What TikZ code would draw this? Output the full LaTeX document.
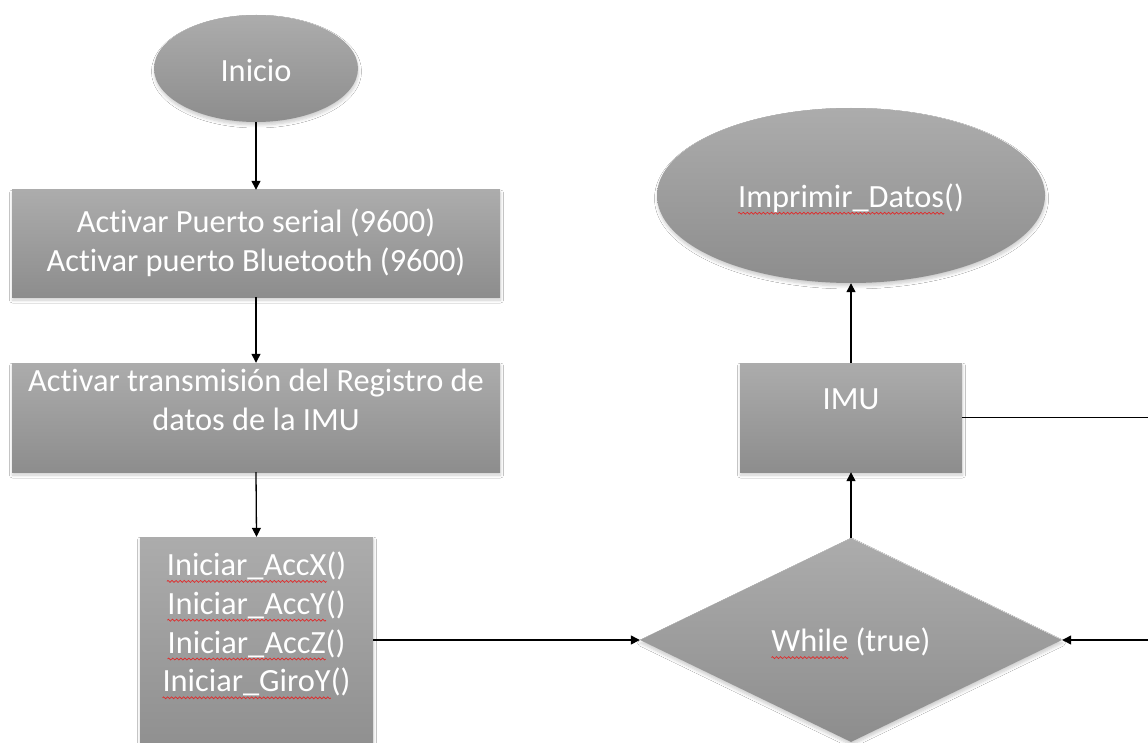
\documentclass[tikz,border=0pt]{standalone}
\usepackage{fontspec}
\setmainfont{Carlito}[Ligatures=NoCommon]
\usetikzlibrary{shapes.geometric,arrows.meta,shadows.blur}

\definecolor{fillTop}{RGB}{172,172,172}
\definecolor{fillBot}{RGB}{141,141,141}
\definecolor{waveRed}{RGB}{225,40,40}

% red wavy underline, as left by a spell checker
\newsavebox\wavebox
\newsavebox\spellbox
\newcommand\spellwave[1]{\leavevmode\sbox\spellbox{#1}%
  \rlap{\raisebox{-6pt}[0pt][0pt]{\hbox to \wd\spellbox{\xleaders\copy\wavebox\hfill}}}%
  \usebox\spellbox}

\begin{document}
\sbox\wavebox{\begin{pgfpicture}%
  \pgfpathrectangle{\pgfpoint{0pt}{-1pt}}{\pgfpoint{4pt}{2pt}}%
  \pgfusepath{use as bounding box}%
  \pgfpathmoveto{\pgfpoint{0pt}{0pt}}%
  \pgfpathcurveto{\pgfpoint{0.7pt}{1.3pt}}{\pgfpoint{1.3pt}{1.3pt}}{\pgfpoint{2pt}{0pt}}%
  \pgfpathcurveto{\pgfpoint{2.7pt}{-1.3pt}}{\pgfpoint{3.3pt}{-1.3pt}}{\pgfpoint{4pt}{0pt}}%
  \pgfsetlinewidth{0.7pt}\pgfsetstrokecolor{waveRed}%
  \pgfusepath{stroke}%
  \pgfsetbaseline{0pt}%
\end{pgfpicture}}%
\begin{tikzpicture}[x=1pt,y=-1pt,
  flowshape/.style={shade, top color=fillTop, bottom color=fillBot, draw=none,
    inner sep=0pt, text=white,
    blur shadow={shadow blur steps=6, shadow blur radius=3pt, shadow xshift=0.5pt,
      shadow yshift=-3pt, shadow opacity=20}},
  proc/.style={flowshape, rectangle},
  term/.style={flowshape, ellipse},
  cond/.style={flowshape, diamond},
  label/.style={text=white, inner sep=0pt, align=center,
    font=\fontsize{32.4}{38.8}\selectfont},
  arr/.style={draw=black, line width=1.3pt, -{Triangle[length=9pt,width=9pt]}}
]
\useasboundingbox (0,0) rectangle (1148,743);
\clip (0,0) rectangle (1148,743);
\fill[white] (0,0) rectangle (1148,743);

% left column
\node[term, minimum width=204pt, minimum height=107pt] (inicio) at (256,68.5) {};
\node[label] (inicioTxt) at (256,70) {Inicio};

\node[proc, minimum width=488pt, minimum height=107pt] (serial) at (256,243.5) {};
\node[label] (serialTxt) at (256,243) {Activar Puerto serial (9600)\\Activar puerto Bluetooth (9600)};

\node[proc, minimum width=488pt, minimum height=109pt] (trans) at (256,417.5) {};
\node[label] (transTxt) at (256,400) {Activar transmisión del Registro de\\datos de la IMU};

\node[proc, minimum width=233pt, minimum height=230pt] (init) at (256.5,652) {};
\node[label] (initTxt) at (256.5,624) {\spellwave{Iniciar\_AccX}()\\\spellwave{Iniciar\_AccY}()\\\spellwave{Iniciar\_AccZ}()\\\spellwave{Iniciar\_GiroY}()};

% right column
\node[cond, minimum width=422pt, minimum height=204pt] (loop) at (851,640) {};
\node[label] (loopTxt) at (851,642) {\spellwave{While} (true)};

\node[proc, minimum width=222pt, minimum height=109pt] (imu) at (851,417.5) {};
\node[label] (imuTxt) at (851,399) {IMU};

\node[term, minimum width=388pt, minimum height=175pt] (imprimir) at (851,195.5) {};
\node[label] (imprimirTxt) at (851,198) {\spellwave{Imprimir\_Datos}()};

\coordinate (loopback) at (1175,530);

% connectors
\draw[arr] (inicio.south) -- (serial.north);
\draw[arr] (serial.south) -- (trans.north);
\draw[arr] (trans.south) -- (init.north);
\draw[arr] (init.east |- loop.west) -- (loop.west);
\draw[arr] (loop.north) -- (imu.south);
\draw[arr] (imu.north) -- (imprimir.south);
\draw[arr] (imu.east) -| (loopback) |- (loop.east);
\end{tikzpicture}
\end{document}
